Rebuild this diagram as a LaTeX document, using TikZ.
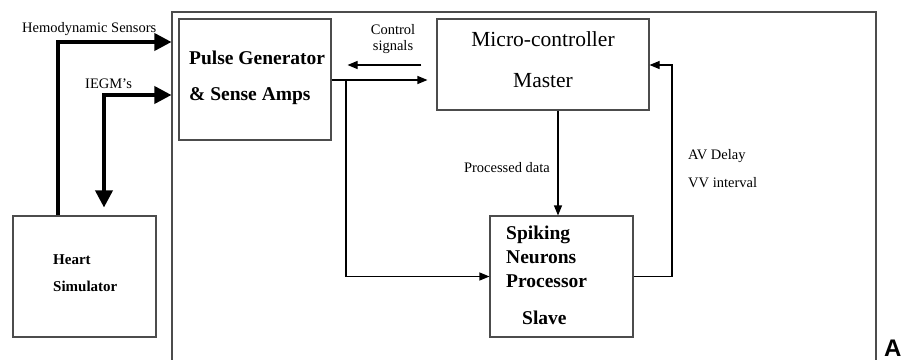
\documentclass[tikz,border=0pt]{standalone}
\usepackage{fontspec}
\setmainfont{Liberation Serif}
\newfontfamily\labelsans{Liberation Sans}
\usetikzlibrary{arrows.meta}

\tikzset{
  block/.style={draw=black!70, line width=1.1pt, fill=none, inner sep=0pt},
  wire/.style={draw=black, line width=1.1pt},
  thinarrow/.style={wire, -{Triangle[length=10pt,width=8pt]}},
  thickwire/.style={draw=black, line width=3.6pt},
  thickhead/.tip={Triangle[length=17pt,width=17pt]},
  txt/.style={inner sep=0pt, font=\fontsize{14.5}{17}\selectfont},
  bigtxt/.style={inner sep=0pt, font=\fontsize{21.5}{25}\selectfont},
  boldtxt/.style={inner sep=0pt, font=\fontsize{19.5}{23}\selectfont\bfseries},
  smallbold/.style={inner sep=0pt, font=\fontsize{15}{18}\selectfont\bfseries},
}

\begin{document}
\begin{tikzpicture}[x=1pt, y=-1pt]
\useasboundingbox (0,0) rectangle (904,359);

% enclosing frame of the pacemaker (open at the bottom)
\draw[draw=black!70, line width=1.1pt] (172,362) -- (172,12) -- (876,12) -- (876,362);

% blocks
\node[block, minimum width=152pt, minimum height=121pt] (pulse) at (255,79.5) {};
\node[block, minimum width=212pt, minimum height=91pt] (micro) at (543,64.5) {};
\node[block, minimum width=143pt, minimum height=121pt] (heart) at (84.5,276.5) {};
\node[block, minimum width=143pt, minimum height=121pt] (spike) at (561.5,276.5) {};

% block texts
\node[boldtxt, anchor=base west] (pulseA) at (189,64) {Pulse Generator};
\node[boldtxt, anchor=base west] (pulseB) at (189,100) {\& Sense Amps};
\node[bigtxt, anchor=base] (microA) at (543,46) {Micro-controller};
\node[bigtxt, anchor=base] (microB) at (543,87) {Master};
\node[smallbold, anchor=base west] (heartA) at (53,264) {Heart};
\node[smallbold, anchor=base west] (heartB) at (53,291) {Simulator};
\node[boldtxt, anchor=base west] (spikeA) at (506,239) {Spiking};
\node[boldtxt, anchor=base west] (spikeB) at (506,263) {Neurons};
\node[boldtxt, anchor=base west] (spikeC) at (506,287) {Processor};
\node[boldtxt, anchor=base west] (spikeD) at (522,324) {Slave};

% connector labels
\node[txt, anchor=base west] (hemo) at (22,32) {Hemodynamic Sensors};
\node[txt, anchor=base west] (iegm) at (85,88) {IEGM’s};
\node[txt, anchor=base] (ctrlA) at (393,34) {Control};
\node[txt, anchor=base] (ctrlB) at (393,50) {signals};
\node[txt, anchor=base east] (proc) at (550,172) {Processed data};
\node[txt, anchor=base west] (avd) at (688,159) {AV Delay};
\node[txt, anchor=base west] (vvi) at (688,187) {VV interval};

% panel letter
\node[inner sep=0pt, anchor=base west, font=\labelsans\fontsize{24}{27}\selectfont\bfseries] (panel) at (884,356) {A};

% routing points
\coordinate (hemoX) at (58,42);
\coordinate (iegmX) at (104,95);
\coordinate (splitX) at (346,80);
\coordinate (fbX) at (672,65);

% thick leads between heart simulator and pacemaker
\draw[thickwire, -{thickhead}, shorten >=7pt]
  (heart.north -| hemoX) -- (hemoX) -- (pulse.west |- hemoX);
\draw[thickwire, {thickhead}-{thickhead}, shorten <=8pt, shorten >=7pt]
  (heart.north -| iegmX) -- (iegmX) -- (pulse.west |- iegmX);

% control signals between micro-controller and pulse generator
\draw[thinarrow, shorten <=15pt, shorten >=16pt] (micro.west |- fbX) -- (pulse.east |- fbX);
\draw[thinarrow, shorten >=9pt] (pulse.east |- splitX) -- (micro.west |- splitX);

% sensed data to the spiking neurons processor
\draw[thinarrow] (splitX) -- (splitX |- spike.west) -- (spike.west);

% processed data
\draw[thinarrow] (micro.south -| 558,0) -- (spike.north -| 558,0);

% AV delay / VV interval feedback
\draw[thinarrow] (spike.east) -- (spike.east -| fbX) -- (fbX) -- (micro.east |- fbX);
\end{tikzpicture}
\end{document}
